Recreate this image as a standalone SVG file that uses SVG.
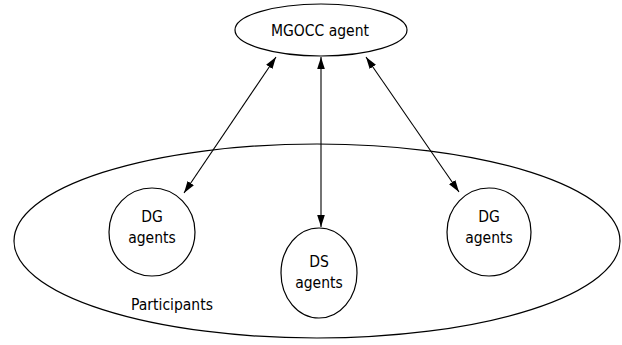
<svg xmlns="http://www.w3.org/2000/svg" width="622" height="345" viewBox="0 0 622 345">
  <style>
    .shape { fill: #ffffff; stroke: #000000; stroke-width: 1.2; }
    .label { font-family: "DejaVu Sans Condensed", "DejaVu Sans", sans-serif; font-size: 15.5px; fill: #000000; text-anchor: middle; }
    .link { stroke: #000000; stroke-width: 1.1; fill: none; marker-start: url(#head); marker-end: url(#head); }
  </style>
  <defs>
    <marker id="head" viewBox="0 0 12 10" refX="12" refY="5" markerWidth="12" markerHeight="10" markerUnits="userSpaceOnUse" orient="auto-start-reverse">
      <path d="M0,1.2 L12,5 L0,8.8 z" fill="#000000"/>
    </marker>
  </defs>
  <rect width="622" height="345" fill="#ffffff"/>

  <g id="participants">
    <ellipse class="shape" cx="317" cy="241" rx="303" ry="97"/>
    <text class="label" x="172" y="310">Participants</text>
  </g>

  <g id="mgocc-agent">
    <ellipse class="shape" cx="321" cy="30" rx="86" ry="26"/>
    <text class="label" x="320" y="36">MGOCC agent</text>
  </g>

  <g id="dg-agents-left">
    <ellipse class="shape" cx="152" cy="232" rx="43" ry="44"/>
    <text class="label" x="152" y="222">DG</text>
    <text class="label" x="152" y="243">agents</text>
  </g>

  <g id="ds-agents">
    <ellipse class="shape" cx="319" cy="273" rx="38" ry="45"/>
    <text class="label" x="319" y="267">DS</text>
    <text class="label" x="319" y="288">agents</text>
  </g>

  <g id="dg-agents-right">
    <ellipse class="shape" cx="489" cy="232" rx="42" ry="44"/>
    <text class="label" x="489" y="222">DG</text>
    <text class="label" x="489" y="243">agents</text>
  </g>

  <g id="connectors">
    <line class="link" x1="276" y1="57" x2="184" y2="193"/>
    <line class="link" x1="321" y1="57" x2="321" y2="227"/>
    <line class="link" x1="366" y1="57" x2="459" y2="192"/>
  </g>
</svg>
